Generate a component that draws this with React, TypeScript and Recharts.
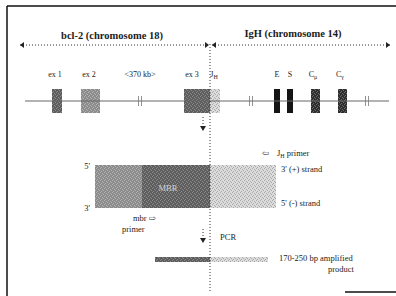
import React from "react";
import {
  ComposedChart,
  XAxis,
  YAxis,
  ReferenceArea,
  ReferenceLine,
  Scatter,
} from "recharts";

// schematic units: x runs along the locus (left -> right), y runs down the page
const exonNames = ["ex 1", "ex 2", "ex 3", "JH", "E", "S", "Cmu", "Cgamma"];
const exonStart = [52, 81, 184, 210, 274, 287, 311, 338];
const exonEnd = [62, 100, 210, 220, 280, 293, 320, 347];

const geneLabels = ["ex 1", "ex 2", "<370 kb>", "ex 3", "J", "E", "S", "C", "C"];
const geneLabelSubs = ["", "", "", "", "H", "", "", "\u03bc", "\u03b3"];
const geneLabelPos = [55, 89, 140, 192, 214, 277, 290, 313, 340];

const breakPoints = [140, 251, 367];

const strandParts = ["bcl-2 upstream", "MBR", "JH"];
const strandStart = [95, 142, 210];
const strandEnd = [142, 210, 276];

const productParts = ["bcl-2", "JH"];
const productStart = [155, 210];
const productEnd = [210, 268];

const junction = 210;

const shade: Record<string, string> = {
  "ex 1": "url(#gDark)",
  "ex 2": "url(#gMid)",
  "ex 3": "url(#gDark)",
  JH: "url(#gLight)",
  E: "#151515",
  S: "#151515",
  Cmu: "url(#gBlack)",
  Cgamma: "url(#gBlack)",
  "bcl-2 upstream": "url(#gMid)",
  MBR: "url(#gDark)",
  "bcl-2": "url(#gDark)",
};

const notes = [
  { x: 112, y: 39, text: "bcl-2 (chromosome 18)", kind: "title" },
  { x: 293, y: 37, text: "IgH (chromosome 14)", kind: "title" },
  { x: 90, y: 169, text: "5'", kind: "end" },
  { x: 90, y: 211, text: "3'", kind: "end" },
  { x: 281, y: 172, text: "3'  (+) strand", kind: "start" },
  { x: 281, y: 206, text: "5'  (-) strand", kind: "start" },
  { x: 133, y: 221, text: "mbr \u21e8", kind: "start" },
  { x: 122, y: 232, text: "primer", kind: "start" },
  { x: 220, y: 240, text: "PCR", kind: "start" },
  { x: 279, y: 261, text: "170-250 bp amplified", kind: "start" },
  { x: 328, y: 272, text: "product", kind: "start" },
  { x: 262, y: 156, text: "\u21e6", kind: "start" },
];

const regionNotes = [{ x: 168, y: 191, text: "MBR" }];

const arrowHeads = [
  { x: 20, y: 45, dir: "left" },
  { x: 209, y: 45, dir: "right" },
  { x: 212, y: 45, dir: "left" },
  { x: 390, y: 45, dir: "right" },
  { x: 203, y: 131, dir: "down" },
  { x: 203, y: 243, dir: "down" },
];

const dotted = [
  [{ x: 20, y: 45 }, { x: 209, y: 45 }],
  [{ x: 212, y: 45 }, { x: 390, y: 45 }],
  [{ x: junction, y: 44 }, { x: junction, y: 292 }],
  [{ x: 203, y: 117 }, { x: 203, y: 128 }],
  [{ x: 203, y: 229 }, { x: 203, y: 240 }],
];

const FONT = "'Liberation Serif', 'DejaVu Serif', serif";
const INK = "#1c1c1c";

const Grain = ({ id, base, dot }: { id: string; base: string; dot: string }) => (
  <pattern id={id} width={4} height={4} patternUnits="userSpaceOnUse">
    <rect width={4} height={4} fill={base} />
    <rect x={0} y={0} width={1} height={1} fill={dot} />
    <rect x={2} y={1} width={1} height={1} fill={dot} />
    <rect x={1} y={3} width={1} height={1} fill={dot} />
    <rect x={3} y={2} width={1} height={1} fill={dot} />
  </pattern>
);

const NoteShape = (p: any) => {
  const { cx, cy, payload } = p;
  const anchor = payload.kind === "end" ? "end" : payload.kind === "start" ? "start" : "middle";
  const title = payload.kind === "title";
  return (
    <text
      x={cx}
      y={cy}
      textAnchor={anchor}
      fontFamily={FONT}
      fontSize={title ? 10.5 : 8.5}
      fontWeight={title ? 700 : 400}
      fill={INK}
    >
      {payload.text}
    </text>
  );
};

const RegionShape = (p: any) => {
  const { cx, cy, payload } = p;
  return (
    <text x={cx} y={cy} textAnchor="middle" fontFamily={FONT} fontSize={8.5} fill="#d4d4d4">
      {payload.text}
    </text>
  );
};

const GeneLabelShape = (p: any) => {
  const { cx, cy, payload } = p;
  return (
    <text x={cx} y={cy} textAnchor="middle" fontFamily={FONT} fontSize={8} fill={INK}>
      {payload.text}
      {payload.sub ? (
        <tspan fontSize={6} dy={2}>
          {payload.sub}
        </tspan>
      ) : null}
    </text>
  );
};

const PrimerShape = (p: any) => {
  const { cx, cy } = p;
  return (
    <text x={cx} y={cy} fontFamily={FONT} fontSize={8.5} fill={INK}>
      J
      <tspan fontSize={6} dy={2}>
        H
      </tspan>
      <tspan dy={-2}> primer</tspan>
    </text>
  );
};

const ArrowShape = (p: any) => {
  const { cx, cy, payload } = p;
  const s = 3;
  let d = "";
  if (payload.dir === "left") d = `M${cx},${cy} L${cx + s + 1},${cy - s} L${cx + s + 1},${cy + s} Z`;
  if (payload.dir === "right") d = `M${cx},${cy} L${cx - s - 1},${cy - s} L${cx - s - 1},${cy + s} Z`;
  if (payload.dir === "down") d = `M${cx},${cy} L${cx - s},${cy - s - 2} L${cx + s},${cy - s - 2} Z`;
  return <path d={d} fill="#222" />;
};

export default function App() {
  const labelData = geneLabels.map((t, i) => ({ x: geneLabelPos[i], y: 77, text: t, sub: geneLabelSubs[i] }));
  const lineY = 101;

  return (
    <div style={{ position: "absolute", left: 0, top: 0, background: "#fff" }}>
      <ComposedChart width={396} height={296} margin={{ top: 0, right: 0, bottom: 0, left: 0 }}>
        <defs>
          <Grain id="gDark" base="#5e5e5e" dot="#8a8a8a" />
          <Grain id="gBlack" base="#2e2e2e" dot="#6a6a6a" />
          <Grain id="gMid" base="#8c8c8c" dot="#b4b4b4" />
          <Grain id="gLight" base="#dcdcdc" dot="#a8a8a8" />
        </defs>
        <XAxis dataKey="x" type="number" domain={[0, 396]} hide />
        <YAxis dataKey="y" type="number" domain={[0, 296]} reversed hide />

        {/* frame */}
        <ReferenceLine segment={[{ x: 7, y: 6 }, { x: 396, y: 6 }]} stroke="#111" strokeWidth={1.5} />
        <ReferenceLine segment={[{ x: 7, y: 6 }, { x: 7, y: 296 }]} stroke="#111" strokeWidth={1.5} />
        <ReferenceLine segment={[{ x: 345, y: 292 }, { x: 396, y: 292 }]} stroke="#111" strokeWidth={1.5} />

        {/* gene line */}
        <ReferenceLine segment={[{ x: 25, y: lineY }, { x: 389, y: lineY }]} stroke="#666" strokeWidth={1} />
        {breakPoints.map((b) => (
          <ReferenceLine key={`bk-${b}`} segment={[{ x: b - 1.5, y: lineY - 5 }, { x: b - 1.5, y: lineY + 5 }]} stroke="#777" strokeWidth={0.8} />
        ))}
        {breakPoints.map((b) => (
          <ReferenceLine key={`bk2-${b}`} segment={[{ x: b + 1.5, y: lineY - 5 }, { x: b + 1.5, y: lineY + 5 }]} stroke="#777" strokeWidth={0.8} />
        ))}

        {/* exons */}
        {exonNames.map((n, i) => (
          <ReferenceArea key={n} x1={exonStart[i]} x2={exonEnd[i]} y1={89} y2={113} fill={shade[n]} fillOpacity={1} stroke="none" />
        ))}

        {/* strands */}
        {strandParts.map((n, i) => (
          <ReferenceArea key={n} x1={strandStart[i]} x2={strandEnd[i]} y1={165} y2={208} fill={shade[n]} fillOpacity={1} stroke="none" />
        ))}

        {/* PCR product */}
        {productParts.map((n, i) => (
          <ReferenceArea key={n} x1={productStart[i]} x2={productEnd[i]} y1={257} y2={262} fill={shade[n]} fillOpacity={1} stroke="none" />
        ))}

        {dotted.map((seg, i) => (
          <ReferenceLine key={`dot-${i}`} segment={seg} stroke="#333" strokeWidth={1} strokeDasharray="1 2" />
        ))}

        <Scatter data={arrowHeads} shape={ArrowShape} isAnimationActive={false} />
        <Scatter data={labelData} shape={GeneLabelShape} isAnimationActive={false} />
        <Scatter data={notes} shape={NoteShape} isAnimationActive={false} />
        <Scatter data={regionNotes} shape={RegionShape} isAnimationActive={false} />
        <Scatter data={[{ x: 277, y: 156 }]} shape={PrimerShape} isAnimationActive={false} />
      </ComposedChart>
    </div>
  );
}
